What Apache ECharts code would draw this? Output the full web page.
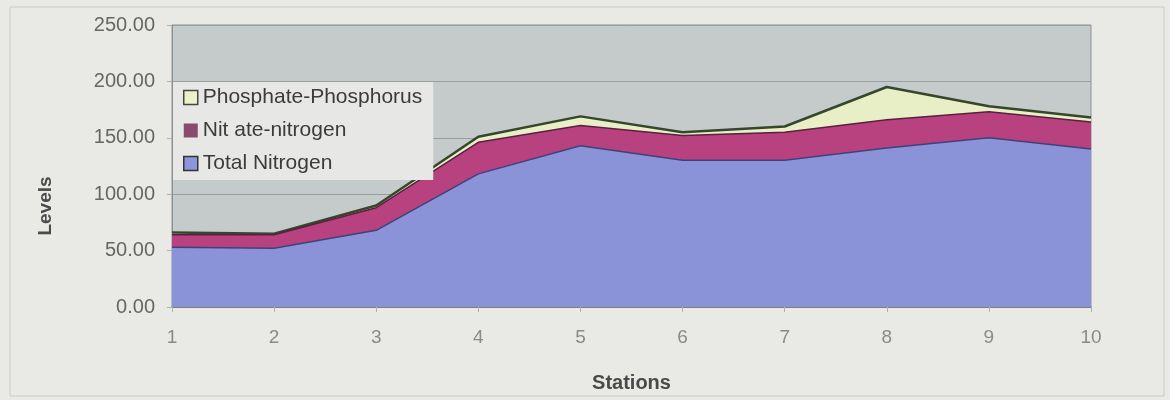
<!DOCTYPE html>
<html>
<head>
<meta charset="utf-8">
<script src="https://cdn.jsdelivr.net/npm/echarts@6/dist/echarts.min.js"></script>
<style>
  html, body { margin: 0; padding: 0; background: #e9e9e5; }
  #chart { width: 1170px; height: 400px; }
</style>
</head>
<body>
<div id="chart"></div>
<script>
// Stations along the sampling route
const stations = ['1', '2', '3', '4', '5', '6', '7', '8', '9', '10'];

// Stacked levels per station (each series adds on top of the previous one)
const totalNitrogen = [53, 52, 68, 118, 143, 130, 130, 141, 150, 140];
const nitrateNitrogen = [11, 12, 20, 28, 18, 22, 25, 25, 23, 24];
const phosphatePhosphorus = [2, 1, 2, 5, 8, 3, 5, 29, 5, 4];

// Value axis settings
const yMin = 0;
const yMax = 250;
const yStep = 50;

const chart = echarts.init(document.getElementById('chart'));

chart.setOption({
  backgroundColor: '#e9e9e5',
  animation: false,
  textStyle: { fontFamily: 'Liberation Sans, Arial, sans-serif' },
  graphic: [
    {
      type: 'rect',
      shape: { x: 10, y: 7, width: 1154, height: 389 },
      style: { fill: 'none', stroke: '#c9c9c5', lineWidth: 1 },
      silent: true,
      z: -1
    },
    {
      // value axis title
      type: 'text',
      x: 46,
      y: 206,
      rotation: Math.PI / 2,
      style: {
        text: 'Levels',
        font: 'bold 19px "Liberation Sans", Arial, sans-serif',
        fill: '#4a4a4a',
        align: 'center',
        verticalAlign: 'middle'
      },
      silent: true
    }
  ],
  grid: {
    left: 172,
    right: 79,
    top: 25,
    bottom: 93,
    show: true,
    backgroundColor: '#c5caca',
    borderColor: '#8d9194',
    borderWidth: 1
  },
  legend: {
    orient: 'vertical',
    left: 173,
    top: 82,
    itemGap: 12,
    padding: [5, 11, 6, 10],
    backgroundColor: '#e7e8e5',
    borderWidth: 0,
    itemWidth: 14,
    itemHeight: 14,
    icon: 'rect',
    textStyle: { fontSize: 21, color: '#3b3b3b' },
    data: [
      { name: 'Phosphate-Phosphorus', itemStyle: { color: '#eef0c8', borderColor: '#444', borderWidth: 1.5 } },
      { name: 'Nit ate-nitrogen', itemStyle: { color: '#8a4a6c', borderColor: '#8a4a6c', borderWidth: 0 } },
      { name: 'Total Nitrogen', itemStyle: { color: '#8d96dc', borderColor: '#333', borderWidth: 1.5 } }
    ]
  },
  xAxis: {
    type: 'category',
    data: stations,
    boundaryGap: false,
    name: 'Stations',
    nameLocation: 'middle',
    nameGap: 66,
    nameTextStyle: { fontSize: 20, fontWeight: 'bold', color: '#4a4a4a' },
    axisLine: { lineStyle: { color: '#6f7378', width: 1.5 } },
    axisTick: { show: true, alignWithLabel: true, length: 5, lineStyle: { color: '#b0b0ae' } },
    axisLabel: { fontSize: 19, color: '#8a8a88', margin: 21 },
    splitLine: { show: false }
  },
  yAxis: {
    type: 'value',
    min: yMin,
    max: yMax,
    interval: yStep,
    axisLine: { show: true, lineStyle: { color: '#8d9194' } },
    axisTick: { show: true, length: 5, lineStyle: { color: '#b0b0ae' } },
    axisLabel: {
      fontSize: 20,
      color: '#666666',
      margin: 17,
      formatter: v => v.toFixed(2)
    },
    splitLine: { show: true, lineStyle: { color: '#999ea0', width: 1 } }
  },
  series: [
    {
      name: 'Total Nitrogen',
      type: 'line',
      stack: 'levels',
      data: totalNitrogen,
      symbol: 'none',
      lineStyle: { color: '#3d4278', width: 1.5 },
      areaStyle: { color: '#8b93d8', opacity: 1 },
      itemStyle: { color: '#8d96dc' },
      z: 3
    },
    {
      name: 'Nit ate-nitrogen',
      type: 'line',
      stack: 'levels',
      data: nitrateNitrogen,
      symbol: 'none',
      lineStyle: { color: '#5b1f3f', width: 1.5 },
      areaStyle: { color: '#b8427f', opacity: 1 },
      itemStyle: { color: '#8a4a6c' },
      z: 2
    },
    {
      name: 'Phosphate-Phosphorus',
      type: 'line',
      stack: 'levels',
      data: phosphatePhosphorus,
      symbol: 'none',
      lineStyle: { color: '#34472c', width: 2.5 },
      areaStyle: { color: '#e8eec6', opacity: 1 },
      itemStyle: { color: '#eef0c8' },
      z: 1
    }
  ]
});
</script>
</body>
</html>
